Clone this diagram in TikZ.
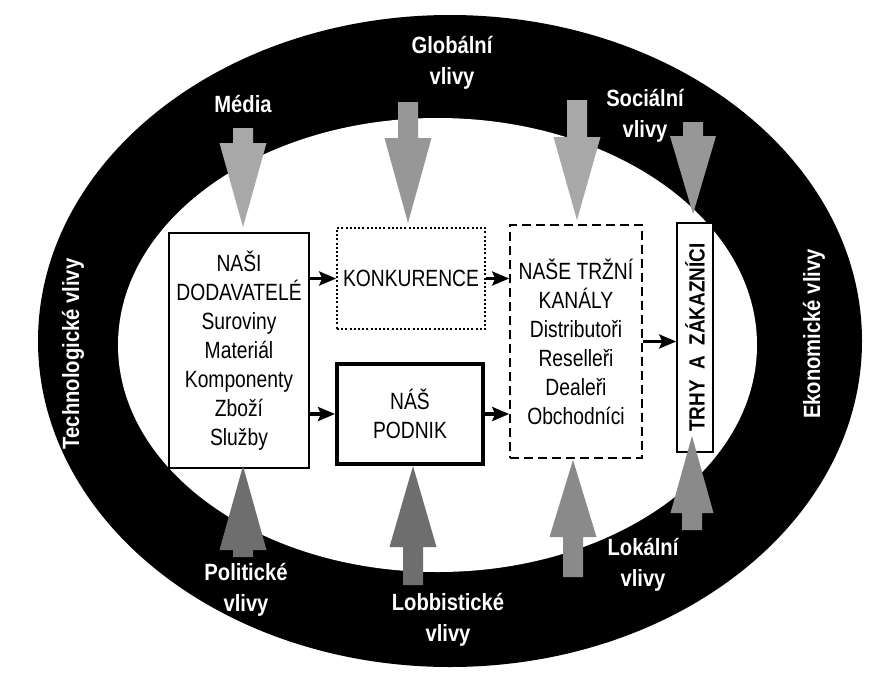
\documentclass[tikz,border=0pt]{standalone}
\usepackage{fontspec}
\newfontfamily\narrowfont{Liberation Sans}[FakeStretch=0.82]
\newfontfamily\ringfont{Liberation Sans}[FakeStretch=0.86]
\usetikzlibrary{arrows.meta}
\definecolor{lightarrow}{gray}{0.66}
\definecolor{midarrow}{gray}{0.54}
\definecolor{darkarrow}{gray}{0.43}
% gray block arrow: colour, x, tail y, head base y, tip y, head half width
\newcommand{\infarrow}[6]{%
  \fill[#1] (#2-10,#3) -- (#2+10,#3) -- (#2+10,#4) -- (#2+#6,#4)
    -- (#2,#5) -- (#2-#6,#4) -- (#2-10,#4) -- cycle;}

\begin{document}
\begin{tikzpicture}[x=1pt, y=-1pt,
    box/.style={
        draw=black,
        fill=white,
        line width=1.6pt,
        inner sep=0pt,
        align=center,
        font=\narrowfont\fontsize{23.5}{29}\selectfont
      },
    ring/.style={
        text=white,
        align=center,
        font=\ringfont\bfseries\fontsize{23.5}{31}\selectfont
      },
    link/.style={-{Stealth[length=17pt, width=14pt, inset=3pt]}, line width=3.2pt}
  ]
  \fill[white] (0,0) rectangle (881,673);
  \useasboundingbox (0,0) rectangle (881,673);

  \fill[black] (450,341) ellipse [x radius=412pt, y radius=326pt];
  \fill[white] (437.5,345) ellipse [x radius=319.5pt, y radius=227pt];

  \node[ring] (l_global) at (452,63) {Globální\\vlivy};
  \node[ring] (l_media) at (243,104) {Média};
  \node[ring] (l_social) at (645,116) {Sociální\\vlivy};
  \node[ring, rotate=90] (l_tech) at (73,354) {Technologické vlivy};
  \node[ring, rotate=90] (l_econ) at (814,334) {Ekonomické vlivy};
  \node[ring] (l_polit) at (246,590) {Politické\\vlivy};
  \node[ring] (l_lobby) at (448,620) {Lobbistické\\vlivy};
  \node[ring] (l_local) at (643,565) {Lokální\\vlivy};

  \node[box, minimum width=140pt, minimum height=235pt] (supp) at (239,350.5)
    {NAŠI\\DODAVATELÉ\\Suroviny\\Materiál\\Komponenty\\Zboží\\Služby};
  \node[box, dash pattern=on 2pt off 2.2pt, minimum width=148pt, minimum height=101pt] (konk) at (411,278.5)
    {KONKURENCE};
  \node[box, line width=4pt, minimum width=146pt, minimum height=100pt] (podnik) at (410,414)
    {NÁŠ\\PODNIK};
  \node[box, dash pattern=on 9pt off 5pt, minimum width=132pt, minimum height=233pt] (chan) at (576,341.5)
    {NAŠE TRŽNÍ\\KANÁLY\\Distributoři\\Reselleři\\Dealeři\\Obchodníci};
  \node[box, minimum width=36pt, minimum height=229pt] (trhy) at (695,337.5)
    {};
  \node[rotate=90, font=\ringfont\bfseries\fontsize{22}{26}\selectfont] (trhy_txt) at (trhy)
    {TRHY\ \ A\ \ ZÁKAZNÍCI};

  \draw[link] (supp.east |- konk) -- (konk.west);
  \draw[link] (supp.east |- podnik) -- (podnik.west);
  \draw[link] (konk.east) -- (konk.east -| chan.west);
  \draw[link] (podnik.east) -- (podnik.east -| chan.west);
  \draw[link] (chan.east) -- (chan.east -| trhy.west);

  \infarrow{lightarrow}{243}{128}{143}{227}{23.5}
  \infarrow{lightarrow!90!black}{408}{102}{138}{223}{23.5}
  \infarrow{lightarrow}{577}{100}{137}{220}{23.5}
  \infarrow{lightarrow!90!black}{693}{122}{136}{214}{23}
  \infarrow{darkarrow}{243}{557}{550}{466}{23.5}
  \infarrow{darkarrow}{413}{585}{547}{466}{23.5}
  \infarrow{midarrow}{573}{577}{537}{460}{23.5}
  \infarrow{midarrow}{692}{530}{513}{436}{21.5}
\end{tikzpicture}
\end{document}
